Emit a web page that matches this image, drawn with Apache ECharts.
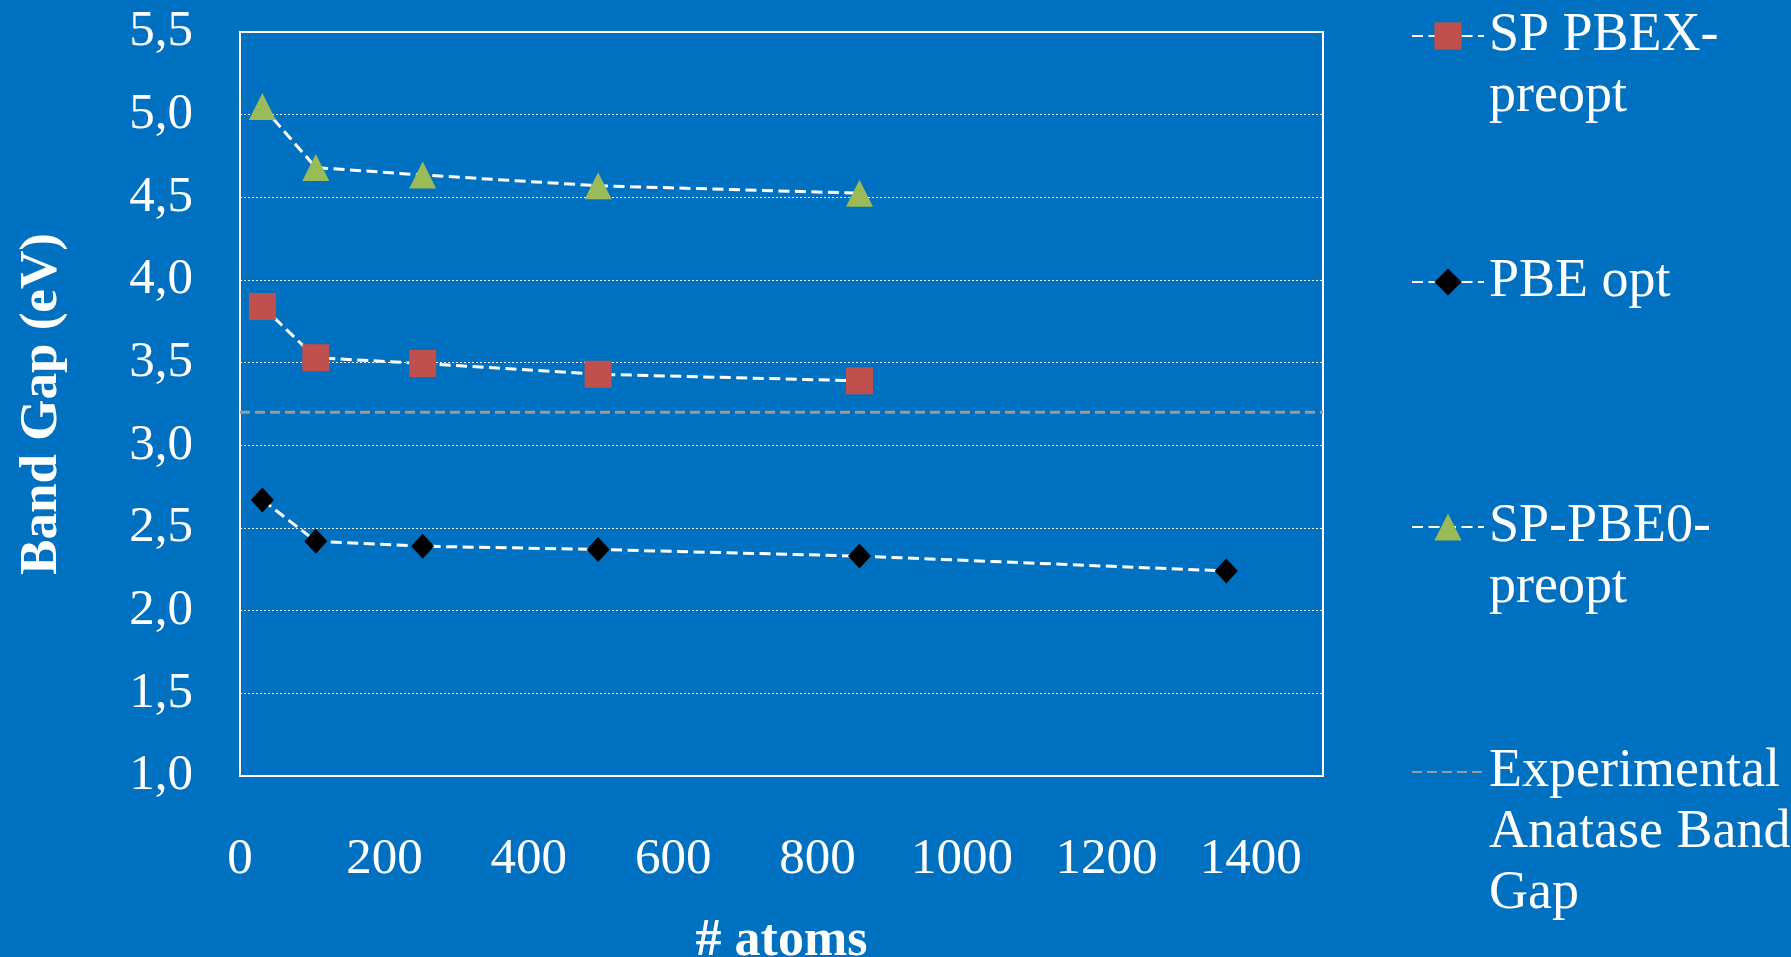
<!DOCTYPE html>
<html><head><meta charset="utf-8">
<script src="https://cdn.jsdelivr.net/npm/echarts@6/dist/echarts.min.js"></script>
<style>html,body{margin:0;padding:0;background:#0070c0;}#c{width:1791px;height:957px;}</style>
</head><body><div id="c"></div>
<script>
// ---- data ----
const atoms = [31, 105, 253, 496, 858];
const atomsPBE = [31, 105, 253, 496, 858, 1366];
const gapPBEX = [3.84, 3.53, 3.495, 3.43, 3.39];
const gapPBE = [2.67, 2.42, 2.39, 2.37, 2.33, 2.24];
const gapPBE0 = [5.05, 4.68, 4.635, 4.57, 4.525];
const expX = [0, 1500];
const expGap = [3.2, 3.2];
const seriesNames = ['SP PBEX-preopt', 'PBE opt', 'SP-PBE0-preopt', 'Experimental Anatase Band Gap'];
const legendLines = [['SP PBEX-', 'preopt'], ['PBE opt'], ['SP-PBE0-', 'preopt'], ['Experimental', 'Anatase Band', 'Gap']];
const xTitle = '# atoms';
const yTitle = 'Band Gap (eV)';

// ---- styles ----
const FONT = 'Liberation Serif';
const LH = 61;
const legendCenters = [36, 282, 527, 772];
const zip = (xs, ys) => xs.map((x, i) => [x, ys[i]]);
const dataLine = { color: '#ffffff', width: 3, type: [11, 5.5] };

const chart = echarts.init(document.getElementById('c'));
chart.setOption({
  backgroundColor: '#0070c0',
  animation: false,
  grid: { left: 240, right: 468, top: 32, bottom: 181, containLabel: false, outerBoundsMode: 'none',
          show: true, borderColor: '#ffffff', borderWidth: 2, backgroundColor: 'transparent' },
  xAxis: {
    type: 'value', min: 0, max: 1500, interval: 200,
    name: xTitle, nameLocation: 'middle', nameGap: 140,
    nameTextStyle: { fontFamily: FONT, fontWeight: 'bold', fontSize: 52, color: '#fff' },
    axisLine: { lineStyle: { color: '#fff', width: 2 } },
    axisTick: { show: false },
    splitLine: { show: false },
    axisLabel: { showMaxLabel: false, color: '#fff', fontFamily: FONT, fontSize: 51, margin: 58,
      formatter: v => String(v) }
  },
  yAxis: {
    type: 'value', min: 1, max: 5.5, interval: 0.5,
    name: yTitle, nameLocation: 'middle', nameGap: 171,
    nameTextStyle: { fontFamily: FONT, fontWeight: 'bold', fontSize: 53, color: '#fff' },
    axisLine: { show: true, lineStyle: { color: '#fff', width: 2 } },
    axisTick: { show: false },
    splitLine: { show: true, lineStyle: { color: '#ffffff', width: 1, type: [2, 2] } },
    axisLabel: { color: '#fff', fontFamily: FONT, fontSize: 51, margin: 47,
      formatter: v => v.toFixed(1).replace('.', ',') }
  },
  legend: seriesNames.map((n, i) => {
    const k = legendLines[i].length;
    const B = (2 * k - 1) * LH;
    return {
      data: [i === 3 ? { name: n, itemStyle: { opacity: 0 } } : n],
      orient: 'vertical', left: 1411, top: legendCenters[i] - B / 2,
      itemWidth: 72, itemHeight: 34, padding: 0, selectedMode: false,
      // leading blank lines keep the first text line level with the icon
      formatter: () => '\n'.repeat(k - 1) + legendLines[i].join('\n'),
      textStyle: { color: '#fff', fontFamily: FONT, fontSize: 54, lineHeight: LH }
    };
  }),
  series: [
    { name: seriesNames[0], type: 'line', data: zip(atoms, gapPBEX),
      symbol: 'rect', symbolSize: 27, itemStyle: { color: '#c0504d' }, lineStyle: dataLine, z: 3 },
    { name: seriesNames[1], type: 'line', data: zip(atomsPBE, gapPBE),
      symbol: 'diamond', symbolSize: [23, 25], itemStyle: { color: '#000000' }, lineStyle: dataLine, z: 3 },
    { name: seriesNames[2], type: 'line', data: zip(atoms, gapPBE0),
      symbol: 'triangle', symbolSize: 27, itemStyle: { color: '#9bbb59' }, lineStyle: dataLine, z: 3 },
    { name: seriesNames[3], type: 'line', data: zip(expX, expGap),
      symbol: 'none', itemStyle: { color: '#9a9a9a' },
      lineStyle: { color: '#9a9a9a', width: 3, type: [10, 5] }, z: 2 }
  ]
});
</script></body></html>
